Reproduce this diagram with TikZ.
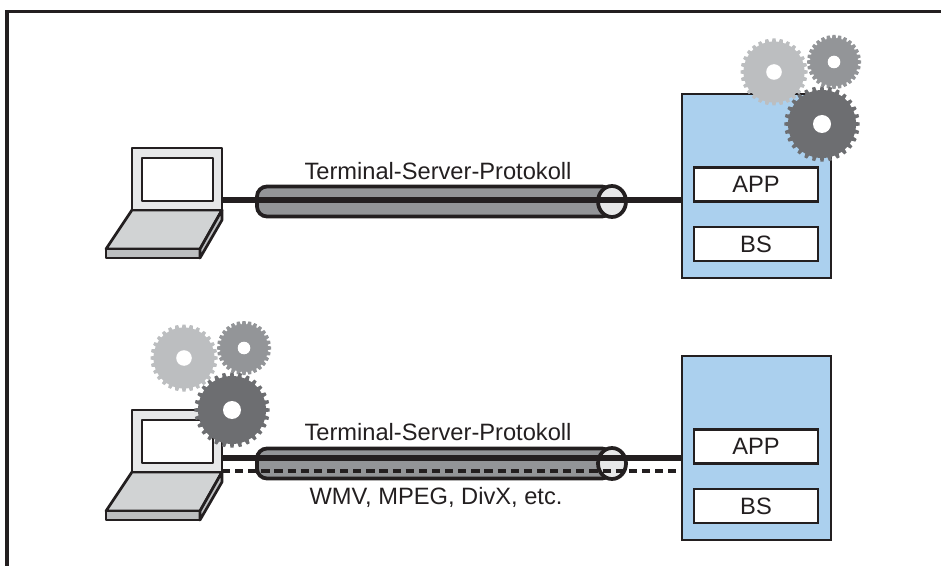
\documentclass[tikz,border=0pt]{standalone}
\usepackage{fontspec}
\setmainfont{Liberation Sans}
\usetikzlibrary{shapes.geometric}
\definecolor{linedark}{HTML}{231F20}
\definecolor{serverblue}{HTML}{ABD0EE}
\definecolor{tubegray}{HTML}{939598}
\definecolor{paleGray}{HTML}{E6E7E8}
\definecolor{keyGray}{HTML}{D1D3D4}
\definecolor{frontGray}{HTML}{BCBEC0}
\definecolor{darkGray}{HTML}{6D6E71}
\tikzset{
  label/.style={inner sep=0pt, text=linedark, font=\fontsize{20.2}{24}\selectfont},
  laptopline/.style={draw=linedark, line width=2.3pt, line join=round},
  screenbox/.style={laptopline, inner sep=0pt, outer sep=0pt},
  serverbox/.style={draw=linedark, line width=2.5pt, fill=serverblue, inner sep=0pt, outer sep=0pt,
    minimum width=4.47cm, minimum height=5.52cm},
  layerbox/.style={label, draw=linedark, line width=2.5pt, fill=white, outer sep=0pt,
    minimum width=3.72cm, minimum height=1.02cm},
  tube/.style={draw=linedark, line width=3.2pt, fill=tubegray, rounded corners=8.5pt, inner sep=0pt,
    minimum width=10.65cm, minimum height=0.90cm},
  tubeend/.style={ellipse, draw=linedark, line width=3.2pt, fill=paleGray, inner sep=0pt,
    minimum width=0.84cm, minimum height=0.93cm},
  wire/.style={draw=linedark, line width=5.4pt},
  dashwire/.style={draw=linedark, line width=2.7pt, dash pattern=on 7pt off 4.2pt},
}
% centre x, centre y, body radius, tooth tip radius, colour, hole radius
\newcommand{\drawgear}[6]{%
  \foreach \ang in {0,12.857,...,350}
    \fill [#5, rotate around={\ang:(#1,#2)}] ({#1+#3-1},{#2-2.2}) -- ({#1+#4},{#2-1.5}) -- ({#1+#4},{#2+1.5}) -- ({#1+#3-1},{#2+2.2}) -- cycle;%
  \fill [#5] (#1,#2) circle ({#3*0.03cm});%
  \fill [white] (#1,#2) circle ({#6*0.03cm});%
}
\begin{document}
\begin{tikzpicture}[x=0.03cm, y=-0.03cm]
        \useasboundingbox (0,0) rectangle (941,566);
        % Frame, top and left side only
        \draw [draw=linedark, line width=2.6pt] (7,566) -- (7,11.5) -- (941,11.5);

        % Laptop, tube and server, twice
        \foreach \rowname/\rowshift in {a/0,b/262} {
        \begin{scope}[yshift=-\rowshift*0.03cm]
        \draw [laptopline, fill=keyGray] (132,210) -- (222,210) -- (200,249) -- (106,249) -- cycle;%
        \draw [laptopline, fill=frontGray] (106,249) -- (200,249) -- (200,258) -- (106,258) -- cycle;%
        \draw [laptopline, fill=frontGray] (222,210) -- (222,220) -- (200,258) -- (200,249) -- cycle;%
        \node (screen\rowname) [screenbox, fill=paleGray, minimum width=2.7cm, minimum height=1.86cm] at (177,179) {};%
        \node (display\rowname) [screenbox, fill=white, minimum width=2.13cm, minimum height=1.29cm] at (177.5,179.5) {};%
        \node (tube\rowname) [tube] at (434.5,201.5) {};%
        \node (tubeend\rowname) [tubeend] at (612,201.5) {};%
        \node (server\rowname) [serverbox] at (756.5,186) {};%
        \node (app\rowname) [layerbox] at (756,184.5) {APP};%
        \node (bs\rowname) [layerbox] at (756,244) {BS};%
        \end{scope}
        }

        % Upper connection
        \coordinate (wirestarta) at (222,200);
        \draw [wire] (wirestarta) -- (servera.west |- wirestarta);%
        \node (labela) [label] at (438,171) {Terminal-Server-Protokoll};%

        % Lower connection
        \coordinate (wirestartb) at (222,458);
        \coordinate (dashstartb) at (222,471);
        \draw [wire] (wirestartb) -- (serverb.west |- wirestartb);%
        \draw [dashwire] (dashstartb) -- (serverb.west |- dashstartb);%
        \node (labelb) [label] at (438,432) {Terminal-Server-Protokoll};%
        \node (labelc) [label] at (436,497) {WMV, MPEG, DivX, etc.};%

        % Gears on the server
        \drawgear{774}{72}{30.5}{33.5}{frontGray}{7.8}%
        \drawgear{834}{62}{24}{27}{tubegray}{6.3}%
        \drawgear{822}{124}{34}{37.7}{darkGray}{9}%

        % Gears on the laptop
        \drawgear{184}{358}{30.5}{33.5}{frontGray}{7.8}%
        \drawgear{244}{348}{24}{27}{tubegray}{6.3}%
        \drawgear{232}{410}{34}{37.7}{darkGray}{9}%
\end{tikzpicture}
\end{document}
